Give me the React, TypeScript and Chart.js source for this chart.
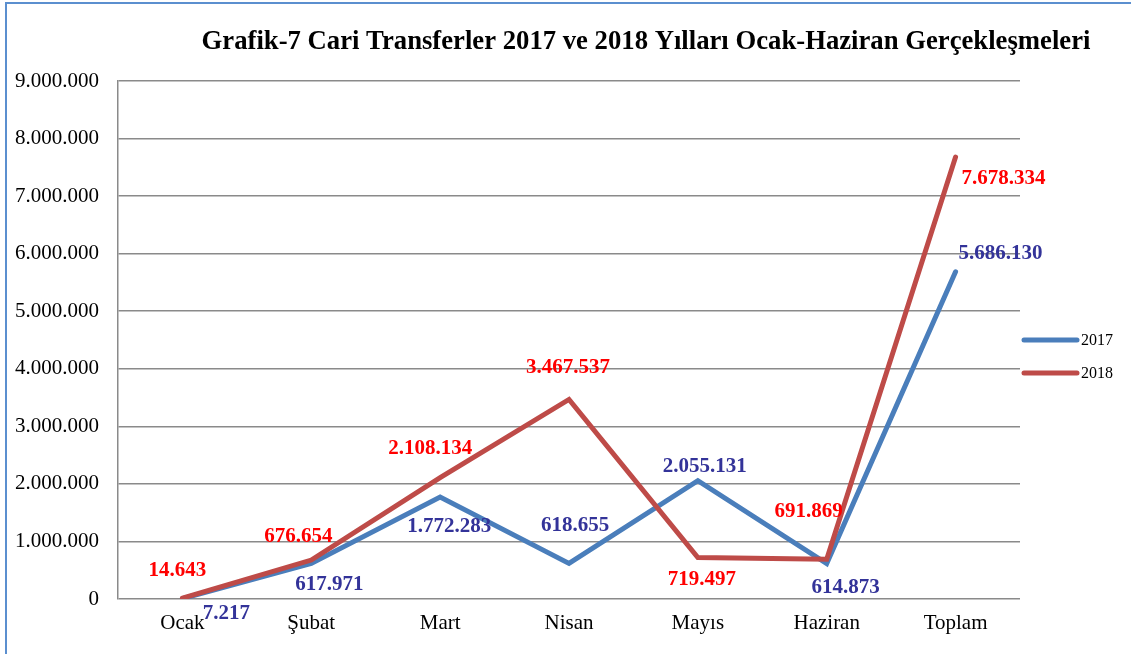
import React, { useEffect, useRef } from "react";
import { Chart, registerables } from "chart.js";

Chart.register(...registerables);

const titleText = "Grafik-7 Cari Transferler 2017 ve 2018 Yılları Ocak-Haziran Gerçekleşmeleri";
const categories = ["Ocak", "Şubat", "Mart", "Nisan", "Mayıs", "Haziran", "Toplam"];
const values2017 = [7217, 617971, 1772283, 618655, 2055131, 614873, 5686130];
const values2018 = [14643, 676654, 2108134, 3467537, 719497, 691869, 7678334];
const yMin = 0;
const yMax = 9000000;
const yStep = 1000000;

// label placement (pixel offsets of text centre from each point) – style only
const labelOffsets2017: [number, number][] = [
  [44, 15], [18, 21], [9, 30], [6, -38], [7, -14], [19, 24], [45, -18],
];
const labelOffsets2018: [number, number][] = [
  [-5, -28], [-13, -23], [-10, -29], [-1, -32], [4, 22], [-18, -48], [48, 22],
];

const FONT = "'Liberation Serif', 'Times New Roman', serif";

const fmt = (n: number) => Math.round(n).toString().replace(/\B(?=(\d{3})+(?!\d))/g, ".");

const overlayPlugin = {
  id: "overlay",
  afterDatasetsDraw(chart: any) {
    const ctx = chart.ctx;
    ctx.save();
    // data labels
    const offsets = [labelOffsets2017, labelOffsets2018];
    chart.data.datasets.forEach((ds: any, di: number) => {
      const meta = chart.getDatasetMeta(di);
      ctx.font = `bold 21px ${FONT}`;
      ctx.fillStyle = ds.labelColor;
      ctx.textAlign = "center";
      ctx.textBaseline = "middle";
      meta.data.forEach((pt: any, i: number) => {
        const [dx, dy] = offsets[di][i];
        ctx.fillText(fmt(ds.data[i]), pt.x + dx, pt.y + dy);
      });
    });
    // title
    ctx.font = `bold 26.7px ${FONT}`;
    ctx.fillStyle = "#000";
    ctx.textAlign = "center";
    ctx.textBaseline = "alphabetic";
    ctx.fillText(titleText, 646, 49);
    // legend
    const area = chart.chartArea;
    chart.data.datasets.forEach((ds: any, di: number) => {
      const y = 340 + di * 33;
      ctx.beginPath();
      ctx.lineWidth = 5;
      ctx.lineCap = "round";
      ctx.strokeStyle = ds.borderColor;
      ctx.moveTo(area.right + 4, y);
      ctx.lineTo(area.right + 57, y);
      ctx.stroke();
      ctx.font = `16px ${FONT}`;
      ctx.fillStyle = "#000";
      ctx.textAlign = "left";
      ctx.textBaseline = "middle";
      ctx.fillText(ds.label, area.right + 61, y + 1);
    });
    ctx.restore();
  },
};

export default function App() {
  const ref = useRef<HTMLCanvasElement | null>(null);
  useEffect(() => {
    if (!ref.current) return;
    const chart = new Chart(ref.current, {
      type: "line",
      data: {
        labels: categories,
        datasets: [
          {
            label: "2017",
            data: values2017,
            borderColor: "#4A7EBB",
            backgroundColor: "#4A7EBB",
            borderWidth: 5,
            pointRadius: 0,
            tension: 0,
            borderCapStyle: "round",
            borderJoinStyle: "miter",
            order: 1,
            labelColor: "#333399",
          } as any,
          {
            label: "2018",
            data: values2018,
            borderColor: "#BE4B48",
            backgroundColor: "#BE4B48",
            borderWidth: 5,
            pointRadius: 0,
            tension: 0,
            borderCapStyle: "round",
            borderJoinStyle: "miter",
            order: 0,
            labelColor: "#FF0000",
          } as any,
        ],
      },
      options: {
        responsive: false,
        animation: false,
        layout: { padding: { left: 15, top: 81, right: 114, bottom: 17 } },
        plugins: {
          legend: { display: false },
          title: { display: false },
          tooltip: { enabled: false },
        },
        scales: {
          x: {
            offset: true,
            grid: { display: false, drawTicks: false },
            border: { display: false },
            ticks: {
              padding: 12,
              color: "#000",
              font: { family: FONT, size: 21 },
              maxRotation: 0,
            },
            afterFit: (s: any) => { s.height = 38; },
          },
          y: {
            min: yMin,
            max: yMax,
            grid: { color: "#8a8a8a", lineWidth: 1.5, drawTicks: false },
            border: { display: true, color: "#8a8a8a", width: 1.5 },
            ticks: {
              stepSize: yStep,
              padding: 19,
              color: "#000",
              font: { family: FONT, size: 21 },
              callback: (v: any) => fmt(Number(v)),
            },
            afterFit: (s: any) => { s.width = 103; },
          },
        },
      },
      plugins: [overlayPlugin],
    });
    return () => chart.destroy();
  }, []);
  return (
    <div style={{ position: "fixed", left: 0, top: 0, width: 1134, height: 654, background: "#fff", overflow: "hidden" }}>
      <canvas ref={ref} width={1134} height={654} style={{ display: "block" }} />
      <div
        style={{
          position: "absolute",
          left: 5,
          top: 2,
          width: 1124,
          height: 700,
          borderLeft: "2px solid #5B8FCF",
          borderTop: "2px solid #5B8FCF",
          pointerEvents: "none",
        }}
      />
    </div>
  );
}
